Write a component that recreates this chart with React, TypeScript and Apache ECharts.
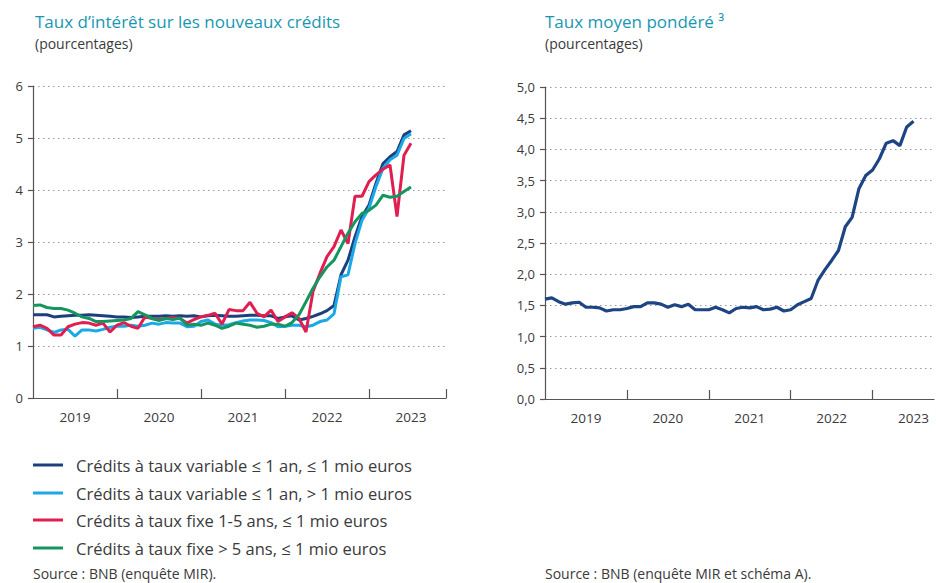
import React, { useEffect, useRef } from "react";
import * as echarts from "echarts";

const years = ["2019", "2020", "2021", "2022", "2023"];
const monthsShort = ["01", "02", "03", "04", "05", "06", "07", "08", "09", "10", "11", "12"];

const seriesNames = [
  "Crédits à taux variable ≤ 1 an, ≤ 1 mio euros",
  "Crédits à taux variable ≤ 1 an, > 1 mio euros",
  "Crédits à taux fixe 1-5 ans, ≤ 1 mio euros",
  "Crédits à taux fixe > 5 ans, ≤ 1 mio euros",
];
const seriesColors = ["#1d3f7e", "#1aa9e6", "#e01e4f", "#16965f"];

// Monthly, Jan 2019 – Jul 2023
const varSmall = [
  1.60, 1.60, 1.60, 1.56, 1.57, 1.58, 1.59, 1.59, 1.60, 1.59, 1.58, 1.57,
  1.56, 1.56, 1.55, 1.56, 1.57, 1.57, 1.57, 1.58, 1.57, 1.58, 1.57, 1.58,
  1.56, 1.58, 1.59, 1.58, 1.57, 1.57, 1.58, 1.59, 1.59, 1.58, 1.58, 1.53,
  1.56, 1.58, 1.50, 1.53, 1.57, 1.62, 1.68, 1.78, 2.37, 2.65, 3.10, 3.49,
  3.71, 4.13, 4.51, 4.64, 4.74, 5.06, 5.14,
];
const varLarge = [
  1.34, 1.36, 1.31, 1.26, 1.31, 1.32, 1.19, 1.31, 1.31, 1.29, 1.32, 1.36,
  1.38, 1.38, 1.40, 1.38, 1.40, 1.44, 1.42, 1.45, 1.44, 1.44, 1.37, 1.38,
  1.47, 1.50, 1.42, 1.40, 1.41, 1.45, 1.48, 1.50, 1.50, 1.49, 1.45, 1.37,
  1.38, 1.40, 1.40, 1.37, 1.40, 1.47, 1.50, 1.62, 2.33, 2.37, 2.97, 3.42,
  3.65, 4.07, 4.42, 4.58, 4.67, 4.99, 5.08,
];
const fixed1to5 = [
  1.37, 1.40, 1.34, 1.21, 1.21, 1.37, 1.42, 1.45, 1.44, 1.40, 1.44, 1.27,
  1.40, 1.45, 1.38, 1.34, 1.56, 1.53, 1.51, 1.53, 1.55, 1.53, 1.44, 1.51,
  1.56, 1.59, 1.63, 1.42, 1.70, 1.68, 1.68, 1.84, 1.63, 1.56, 1.69, 1.47,
  1.56, 1.64, 1.53, 1.27, 2.05, 2.40, 2.72, 2.91, 3.23, 2.97, 3.88, 3.88,
  4.16, 4.29, 4.40, 4.48, 3.49, 4.67, 4.90,
];
const fixedOver5 = [
  1.78, 1.79, 1.74, 1.72, 1.72, 1.69, 1.63, 1.56, 1.53, 1.47, 1.47, 1.48,
  1.49, 1.50, 1.53, 1.66, 1.60, 1.53, 1.49, 1.53, 1.51, 1.54, 1.40, 1.42,
  1.40, 1.44, 1.40, 1.34, 1.38, 1.44, 1.42, 1.40, 1.36, 1.38, 1.42, 1.42,
  1.38, 1.45, 1.60, 1.85, 2.11, 2.33, 2.52, 2.65, 2.91, 3.17, 3.39, 3.55,
  3.61, 3.71, 3.90, 3.86, 3.88, 3.97, 4.06,
];
const weightedAvg = [
  1.60, 1.62, 1.56, 1.52, 1.54, 1.55, 1.47, 1.47, 1.46, 1.41, 1.43, 1.43,
  1.45, 1.48, 1.48, 1.54, 1.54, 1.52, 1.47, 1.51, 1.48, 1.52, 1.43, 1.43,
  1.43, 1.47, 1.43, 1.38, 1.45, 1.47, 1.46, 1.48, 1.43, 1.44, 1.47, 1.41,
  1.43, 1.51, 1.56, 1.61, 1.90, 2.07, 2.22, 2.38, 2.76, 2.91, 3.37, 3.58,
  3.67, 3.85, 4.10, 4.14, 4.06, 4.36, 4.45,
];

const leftSeries = [varSmall, varLarge, fixed1to5, fixedOver5];

const allMonths: string[] = [];
years.forEach((y) => monthsShort.forEach((m) => allMonths.push(`${y}-${m}`)));
const leftCats = allMonths.slice(0, 60);
const rightCats = allMonths.slice(0, 58);

const FONT = "Open Sans";
const TITLE_COLOR = "#1897b2";
const TEXT_COLOR = "#3a3a3a";
const AXIS_COLOR = "#555";
const GRID_COLOR = "#9a9a9a";

export default function App() {
  const ref = useRef<HTMLDivElement>(null);

  useEffect(() => {
    if (!ref.current) return;
    const chart = echarts.init(ref.current, undefined, { renderer: "svg" });

    const makeX = (gridIndex: number, cats: string[], endTick: boolean) => ({
      type: "category",
      gridIndex,
      data: cats,
      boundaryGap: false,
      axisLine: { show: true, lineStyle: { color: AXIS_COLOR, width: 1.2 } },
      axisTick: {
        show: true,
        inside: true,
        length: 9,
        interval: (i: number) => (i > 0 && i % 12 === 0) || (endTick && i === cats.length - 1),
        lineStyle: { color: AXIS_COLOR, width: 1.2 },
      },
      axisLabel: {
        show: true,
        interval: (i: number) => i % 12 === 6,
        formatter: (v: string) => v.slice(0, 4),
        color: TEXT_COLOR,
        fontFamily: FONT,
        fontSize: 13.5,
        margin: 12,
      },
      splitLine: { show: false },
    });

    const makeY = (gridIndex: number, max: number, interval: number, decimals: boolean) => ({
      type: "value",
      gridIndex,
      min: 0,
      max,
      interval,
      axisLine: { show: true, lineStyle: { color: AXIS_COLOR, width: 1.2 } },
      axisTick: { show: true, length: 5, lineStyle: { color: AXIS_COLOR, width: 1.2 } },
      axisLabel: {
        color: TEXT_COLOR,
        fontFamily: FONT,
        fontSize: 13,
        margin: 10,
        formatter: (v: number) => (decimals ? v.toFixed(1).replace(".", ",") : String(v)),
      },
      splitLine: { show: true, lineStyle: { color: GRID_COLOR, type: [1.5, 3.5], width: 1 } },
    });

    const graphic: any[] = [
      { type: "text", style: { text: "Taux d’intérêt sur les nouveaux crédits", x: 35, y: 21, font: `17px "${FONT}"`, fill: TITLE_COLOR, verticalAlign: "middle" } },
      { type: "text", style: { text: "(pourcentages)", x: 35, y: 43, font: `14px "${FONT}"`, fill: TEXT_COLOR, verticalAlign: "middle" } },
      { type: "text", style: { text: "Taux moyen pondéré ³", x: 545, y: 21, font: `17px "${FONT}"`, fill: TITLE_COLOR, verticalAlign: "middle" } },
      { type: "text", style: { text: "(pourcentages)", x: 545, y: 43, font: `14px "${FONT}"`, fill: TEXT_COLOR, verticalAlign: "middle" } },
      { type: "text", style: { text: "Source : BNB (enquête MIR).", x: 33, y: 573, font: `14px "${FONT}"`, fill: TEXT_COLOR, verticalAlign: "middle" } },
      { type: "text", style: { text: "Source : BNB (enquête MIR et schéma A).", x: 545, y: 573, font: `14px "${FONT}"`, fill: TEXT_COLOR, verticalAlign: "middle" } },
    ];
    const legendY = [465, 493, 520, 548];
    seriesNames.forEach((name, i) => {
      graphic.push({ type: "line", shape: { x1: 33, y1: legendY[i], x2: 63, y2: legendY[i] }, style: { stroke: seriesColors[i], lineWidth: 3 } });
      graphic.push({ type: "text", style: { text: name, x: 76, y: legendY[i], font: `16.5px "${FONT}"`, fill: TEXT_COLOR, verticalAlign: "middle" } });
    });

    chart.setOption({
      animation: false,
      backgroundColor: "#ffffff",
      grid: [
        { left: 33, top: 86, width: 413, height: 312 },
        { left: 545, top: 87, width: 389, height: 312 },
      ],
      xAxis: [makeX(0, leftCats, true), makeX(1, rightCats, false)],
      yAxis: [makeY(0, 6, 1, false), makeY(1, 5, 0.5, true)],
      series: [
        ...leftSeries.map((d, i) => ({
          name: seriesNames[i],
          type: "line",
          xAxisIndex: 0,
          yAxisIndex: 0,
          data: d,
          symbol: "none",
          lineStyle: { color: seriesColors[i], width: 3 },
          itemStyle: { color: seriesColors[i] },
          z: i === 3 ? 4 : 3 + i * 0.1,
        })),
        {
          name: "Taux moyen pondéré",
          type: "line",
          xAxisIndex: 1,
          yAxisIndex: 1,
          data: weightedAvg,
          symbol: "none",
          lineStyle: { color: "#1d4483", width: 3.2 },
          itemStyle: { color: "#1d4483" },
        },
      ],
      graphic,
    });

    return () => chart.dispose();
  }, []);

  return (
    <div
      ref={ref}
      style={{ position: "fixed", left: 0, top: 0, width: 936, height: 583, background: "#fff" }}
    />
  );
}
